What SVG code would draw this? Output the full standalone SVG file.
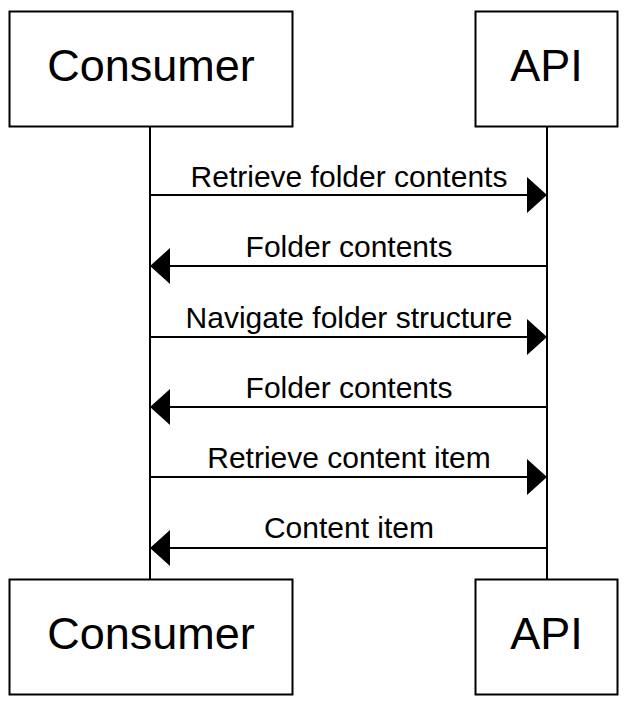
<svg xmlns="http://www.w3.org/2000/svg" width="630" height="704" viewBox="0 0 630 704">
<style>
.box{fill:#fff;stroke:#000;stroke-width:2}
.life{stroke:#000;stroke-width:2}
.msg{stroke:#000;stroke-width:2;fill:none}
.head{fill:#000;stroke:none}
.title{font-family:"Liberation Sans",Arial,sans-serif;font-size:45px;text-anchor:middle;fill:#000}
.lbl{font-family:"Liberation Sans",Arial,sans-serif;font-size:30px;text-anchor:middle;fill:#000}
</style>
<rect width="630" height="704" fill="#fff"/>
<g id="lifelines">
<line class="life" x1="150" y1="126" x2="150" y2="579"/>
<line class="life" x1="547" y1="126" x2="547" y2="579"/>
</g>
<g id="consumer-top"><rect class="box" x="9.5" y="11.5" width="283" height="115"/><text class="title" x="151" y="81">Consumer</text></g>
<g id="api-top"><rect class="box" x="475.5" y="11.5" width="142" height="115"/><text class="title" x="546.5" y="81">API</text></g>
<g id="consumer-bottom"><rect class="box" x="9.5" y="579.5" width="283" height="115"/><text class="title" x="151" y="649">Consumer</text></g>
<g id="api-bottom"><rect class="box" x="475.5" y="579.5" width="142" height="115"/><text class="title" x="546.5" y="649">API</text></g>
<g id="connectors">
<line class="msg" x1="150" y1="195" x2="528" y2="195"/><polygon class="head" points="547,195 527,177 527,213"/>
<line class="msg" x1="547" y1="266" x2="169" y2="266"/><polygon class="head" points="150,266 170,248 170,284"/>
<line class="msg" x1="150" y1="337" x2="528" y2="337"/><polygon class="head" points="547,337 527,319 527,355"/>
<line class="msg" x1="547" y1="407" x2="169" y2="407"/><polygon class="head" points="150,407 170,389 170,425"/>
<line class="msg" x1="150" y1="477" x2="528" y2="477"/><polygon class="head" points="547,477 527,459 527,495"/>
<line class="msg" x1="547" y1="548" x2="169" y2="548"/><polygon class="head" points="150,548 170,530 170,566"/>
</g>
<g id="labels">
<text class="lbl" x="349" y="187">Retrieve folder contents</text>
<text class="lbl" x="349" y="257">Folder contents</text>
<text class="lbl" x="349" y="328">Navigate folder structure</text>
<text class="lbl" x="349" y="398">Folder contents</text>
<text class="lbl" x="349" y="468">Retrieve content item</text>
<text class="lbl" x="349" y="538">Content item</text>
</g>
</svg>
